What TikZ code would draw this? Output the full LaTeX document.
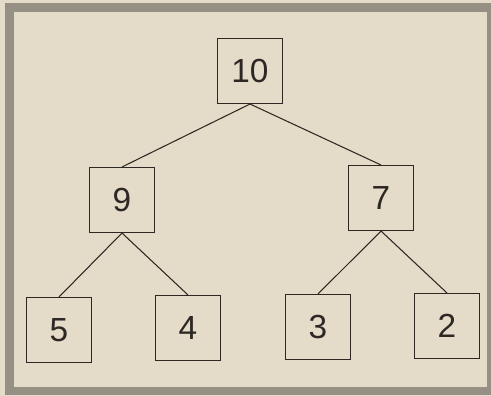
\documentclass[tikz,border=0pt]{standalone}
\usepackage{fontspec}
\setmainfont{Liberation Sans}
\usepackage{tikz}
\usetikzlibrary{positioning}
\definecolor{scanPaper}{RGB}{228,220,200}
\definecolor{scanFrame}{RGB}{150,144,132}
\definecolor{scanInk}{RGB}{45,40,36}

\begin{document}
\begin{tikzpicture}[x=0.02cm,y=-0.02cm,
    keybox/.style={draw=scanInk, line width=0.6pt, minimum size=1.3cm, inner sep=0pt,
      font=\fontsize{19}{22}\selectfont, text=scanInk},
    treeedge/.style={draw=scanInk, line width=0.6pt}]
  % --- paper and frame ---
  \fill[scanPaper] (0,0) rectangle (491,396);
  \useasboundingbox (0,0) rectangle (491,396);
  \draw[scanFrame, line width=5pt] (9.5,7.5) rectangle (491,391);
  % --- root ---
  \node[keybox] (n10) at (250,71) {10};
  % --- second level ---
  \node[keybox] (n9) at (122,200) {9};
  \node[keybox] (n7) at (381,198) {7};
  % --- leaves ---
  \node[keybox] (n5) at (59,330) {5};
  \node[keybox] (n4) at (188,328) {4};
  \node[keybox] (n3) at (318,327) {3};
  \node[keybox] (n2) at (447,326) {2};
  % --- edges ---
  \draw[treeedge] (n10.south) -- (n9.north);
  \draw[treeedge] (n10.south) -- (n7.north);
  \draw[treeedge] (n9.south) -- (n5.north);
  \draw[treeedge] (n9.south) -- (n4.north);
  \draw[treeedge] (n7.south) -- (n3.north);
  \draw[treeedge] (n7.south) -- (n2.north);
\end{tikzpicture}
\end{document}
